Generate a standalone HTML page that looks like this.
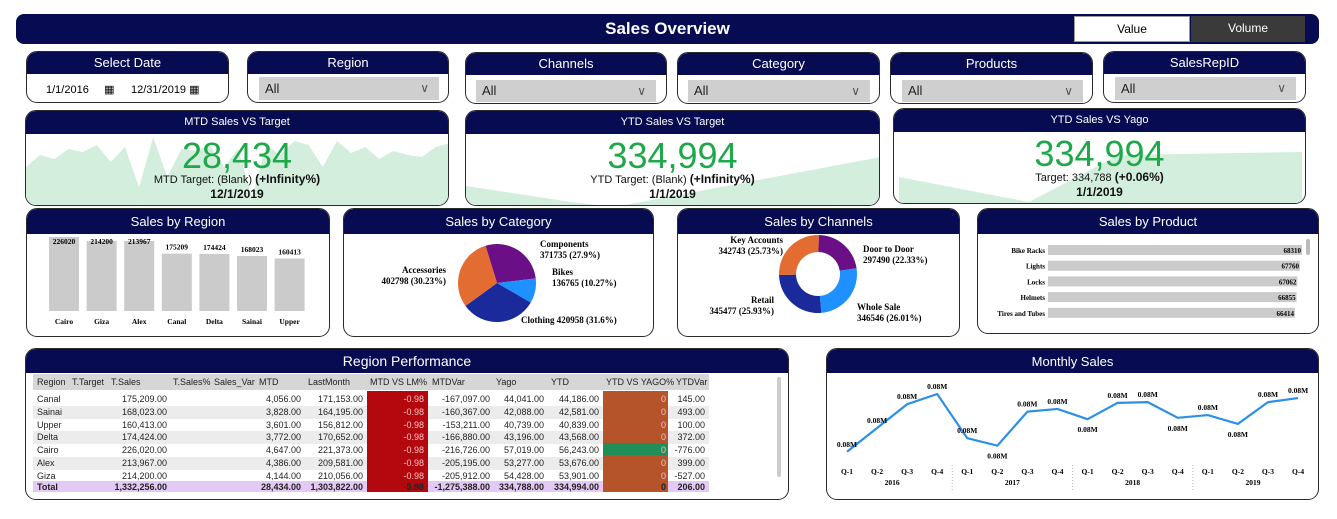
<!DOCTYPE html>
<html><head><meta charset="utf-8">
<style>
*{box-sizing:border-box;margin:0;padding:0}
body{width:1337px;height:519px;background:#fff;position:relative;overflow:hidden;font-family:"Liberation Sans",sans-serif}
.abs{position:absolute}
.panel{position:absolute;border:1px solid #2a2a2a;border-radius:11px;overflow:hidden;background:#fff}
.ph{position:absolute;left:0;right:0;top:0;background:#070c52;color:#fff;text-align:center;font-size:13px}
.dd{position:absolute;background:#cfcfcf;font-size:13px;color:#222;padding-left:6px}
.dd span{position:absolute;right:10px;top:0;font-size:12px;color:#555}
.big{position:absolute;color:#1fa84a;font-size:36px;text-align:center;width:100%}
.sub{position:absolute;font-size:11px;text-align:center;width:100%;color:#111}
.date{position:absolute;font-size:12px;font-weight:bold;text-align:center;width:100%;color:#111}
svg text{font-family:"Liberation Serif",serif;font-weight:bold}
table{border-collapse:collapse}
.tc{position:absolute;font-size:9px;color:#222;white-space:nowrap}
</style></head><body>

<div class="abs" style="left:16px;top:14px;width:1303px;height:30px;background:#070c52;border-radius:8px"></div>
<div class="abs" style="left:16px;top:19px;width:1303px;text-align:center;color:#fff;font-size:17px;font-weight:bold">Sales Overview</div>
<div class="abs" style="left:1074px;top:16px;width:116px;height:26px;background:#fff;border:1px solid #999;text-align:center;font-size:12px;line-height:25px">Value</div>
<div class="abs" style="left:1191px;top:16px;width:114px;height:26px;background:#3a3a3a;color:#fff;text-align:center;font-size:12px;line-height:25px">Volume</div>

<!-- slicers -->
<div class="panel" style="left:26px;top:51px;width:203px;height:52px"><div class="ph" style="height:22px;line-height:22px">Select Date</div>
<div class="abs" style="left:12px;top:28px;width:86px;height:20px;font-size:11px;line-height:20px;padding-left:7px">1/1/2016 &nbsp;&nbsp;&nbsp;&nbsp;&#9638;</div>
<div class="abs" style="left:100px;top:28px;width:90px;height:20px;font-size:11px;line-height:20px;padding-left:4px">12/31/2019 &#9638;</div></div>

<div class="panel" style="left:247px;top:51px;width:202px;height:52px"><div class="ph" style="height:22px;line-height:22px">Region</div><div class="dd" style="left:11px;top:25px;width:180px;height:23px;line-height:23px">All<span>&#8744;</span></div></div>
<div class="panel" style="left:465px;top:52px;width:202px;height:52px"><div class="ph" style="height:22px;line-height:22px">Channels</div><div class="dd" style="left:10px;top:27px;width:180px;height:22px;line-height:22px">All<span>&#8744;</span></div></div>
<div class="panel" style="left:677px;top:52px;width:203px;height:52px"><div class="ph" style="height:22px;line-height:22px">Category</div><div class="dd" style="left:10px;top:27px;width:182px;height:22px;line-height:22px">All<span>&#8744;</span></div></div>
<div class="panel" style="left:890px;top:52px;width:203px;height:52px"><div class="ph" style="height:22px;line-height:22px">Products</div><div class="dd" style="left:11px;top:27px;width:181px;height:22px;line-height:22px">All<span>&#8744;</span></div></div>
<div class="panel" style="left:1103px;top:51px;width:203px;height:52px"><div class="ph" style="height:22px;line-height:22px">SalesRepID</div><div class="dd" style="left:11px;top:25px;width:181px;height:23px;line-height:23px">All<span>&#8744;</span></div></div>

<!-- KPI cards -->
<div class="panel" style="left:25px;top:110px;width:424px;height:96px">
<div class="ph" style="height:23px;line-height:23px;font-size:11px">MTD Sales VS Target</div>
<svg class="abs" style="left:0;top:23px" width="424" height="73" id="spark1"></svg>
<div class="big" style="top:24px">28,434</div>
<div class="sub" style="top:61px">MTD Target: (Blank) <b style="font-size:12px">(+Infinity%)</b></div>
<div class="date" style="top:76px">12/1/2019</div></div>

<div class="panel" style="left:465px;top:110px;width:415px;height:96px">
<div class="ph" style="height:23px;line-height:23px;font-size:11px">YTD Sales VS Target</div>
<svg class="abs" style="left:0;top:23px" width="415" height="73"><path d="M0,52 L105,68 L148,73 L415,23 L415,73 L0,73Z" fill="#d3eedc"/></svg>
<div class="big" style="top:24px">334,994</div>
<div class="sub" style="top:61px">YTD Target: (Blank) <b style="font-size:12px">(+Infinity%)</b></div>
<div class="date" style="top:76px">1/1/2019</div></div>

<div class="panel" style="left:893px;top:108px;width:413px;height:96px">
<div class="ph" style="height:23px;line-height:23px;font-size:11px">YTD Sales VS Yago</div>
<svg class="abs" style="left:0;top:23px" width="413" height="73"><path d="M5,45 L135,70 L225,23 L408,20 L408,73 L5,73Z" fill="#d3eedc"/></svg>
<div class="big" style="top:24px">334,994</div>
<div class="sub" style="top:61px">Target: 334,788 <b style="font-size:12px">(+0.06%)</b></div>
<div class="date" style="top:76px">1/1/2019</div></div>

<!-- row 3 -->
<div class="panel" style="left:26px;top:208px;width:304px;height:129px"><div class="ph" style="height:25px;line-height:25px">Sales by Region</div></div>
<div class="panel" style="left:343px;top:208px;width:311px;height:129px"><div class="ph" style="height:25px;line-height:25px">Sales by Category</div></div>
<div class="panel" style="left:677px;top:208px;width:283px;height:129px"><div class="ph" style="height:25px;line-height:25px">Sales by Channels</div></div>
<div class="panel" style="left:977px;top:208px;width:342px;height:126px"><div class="ph" style="height:25px;line-height:25px">Sales by Product</div>
<div class="abs" style="left:328px;top:30px;width:4px;height:16px;background:#bbb;border-radius:2px"></div></div>

<!-- row 4 -->
<div class="panel" style="left:25px;top:348px;width:764px;height:152px"><div class="ph" style="height:24px;line-height:25px;font-size:14px">Region Performance</div>
<div class="abs" style="left:751px;top:28px;width:4px;height:100px;background:#ccc;border-radius:2px"></div></div>
<div class="panel" style="left:826px;top:348px;width:493px;height:152px"><div class="ph" style="height:24px;line-height:25px">Monthly Sales</div></div>

<div id="tbl"></div>
<svg class="abs" id="charts" style="left:0;top:0" width="1337" height="519"></svg>

<script>
// ---- data ----
const mtdSpark=[40,52,48,58,55,62,45,60,20,70,30,58,56,62,40,58,10,62,52,66,62,40,66,54,60,48,56,52,50,60,64];
const regionNames=["Cairo","Giza","Alex","Canal","Delta","Sainai","Upper"];
const regionValues=[226020,214200,213967,175209,174424,168023,160413];
const catNames=["Components","Bikes","Clothing","Accessories"];
const catValues=[371735,136765,420958,402798];
const catPct=["27.9%","10.27%","31.6%","30.23%"];
const chanNames=["Door to Door","Whole Sale","Retail","Key Accounts"];
const chanValues=[297490,346546,345477,342743];
const chanPct=["22.33%","26.01%","25.93%","25.73%"];
const prodNames=["Bike Racks","Lights","Locks","Helmets","Tires and Tubes"];
const prodValues=[68310,67760,67062,66855,66414];
const quarters=["Q-1","Q-2","Q-3","Q-4","Q-1","Q-2","Q-3","Q-4","Q-1","Q-2","Q-3","Q-4","Q-1","Q-2","Q-3","Q-4"];
const years=["2016","2017","2018","2019"];
const monthlyValues=[76.0,79.5,83.0,84.5,78.0,76.9,81.9,82.3,80.8,83.2,83.3,81.0,81.4,80.1,83.3,83.9];
const monthlyLabelBelow=[0,0,0,0,0,1,0,0,1,0,0,1,0,1,0,0];
const tblHeaders=["Region","T.Target","T.Sales","T.Sales%","Sales_Var","MTD","LastMonth","MTD VS LM%","MTDVar","Yago","YTD","YTD VS YAGO%","YTDVar"];
const tblRegions=["Canal","Sainai","Upper","Delta","Cairo","Alex","Giza"];
const tblTarget=["175,209.00","168,023.00","160,413.00","174,424.00","226,020.00","213,967.00","214,200.00"];
const tblMTD=["4,056.00","3,828.00","3,601.00","3,772.00","4,647.00","4,386.00","4,144.00"];
const tblLast=["171,153.00","164,195.00","156,812.00","170,652.00","221,373.00","209,581.00","210,056.00"];
const tblPct=["-0.98","-0.98","-0.98","-0.98","-0.98","-0.98","-0.98"];
const tblMTDVar=["-167,097.00","-160,367.00","-153,211.00","-166,880.00","-216,726.00","-205,195.00","-205,912.00"];
const tblYago=["44,041.00","42,088.00","40,739.00","43,196.00","57,019.00","53,277.00","54,428.00"];
const tblYTD=["44,186.00","42,581.00","40,839.00","43,568.00","56,243.00","53,676.00","53,901.00"];
const tblYPct=["0","0","0","0","0","0","0"];
const tblYVar=["145.00","493.00","100.00","372.00","-776.00","399.00","-527.00"];
const tblTotal=["Total","1,332,256.00","","","","28,434.00","1,303,822.00","-0.98","-1,275,388.00","334,788.00","334,994.00","0","206.00"];

const NS="http://www.w3.org/2000/svg";
function mk(parent,tag,attrs,txt){const e=document.createElementNS(NS,tag);for(const k in attrs)e.setAttribute(k,attrs[k]);if(txt!==undefined)e.textContent=txt;parent.appendChild(e);return e;}
const svg=document.getElementById('charts');

// sparkline
const sp=document.getElementById('spark1');
{let d="M0,73";mtdSpark.forEach((v,i)=>{d+=" L"+(i*424/(mtdSpark.length-1)).toFixed(1)+","+(73-v).toFixed(1)});d+=" L424,73Z";
const p=mk(sp,'path',{d:d,fill:'#d3eedc'});

}

// region bars
{const base=311,maxH=74,maxV=226020,x0=49,step=37.6,bw=30;
regionNames.forEach((n,i)=>{const h=regionValues[i]/maxV*maxH;const x=x0+i*step;
const r=mk(svg,'rect',{x:x,y:base-h,width:bw,height:h,fill:'#cbcbcb'});


const t=mk(svg,'text',{x:x+bw/2,y:Math.max(base-h-4,244),'text-anchor':'middle','font-size':7.5},regionValues[i]);


const l=mk(svg,'text',{x:x+bw/2,y:324,'text-anchor':'middle','font-size':7.5},n);

});}

function arcPath(cx,cy,r,ri,a0,a1){const p=(a,rr)=>[cx+rr*Math.sin(a),cy-rr*Math.cos(a)];const lg=(a1-a0)>Math.PI?1:0;
const [x0,y0]=p(a0,r),[x1,y1]=p(a1,r);
if(!ri)return `M${cx},${cy} L${x0},${y0} A${r},${r} 0 ${lg} 1 ${x1},${y1}Z`;
const [x2,y2]=p(a1,ri),[x3,y3]=p(a0,ri);return `M${x0},${y0} A${r},${r} 0 ${lg} 1 ${x1},${y1} L${x2},${y2} A${ri},${ri} 0 ${lg} 0 ${x3},${y3}Z`;}

// pie
{const cx=497,cy=283,r=39,cols=["#6a0f86","#1e90ff","#1a2a9a","#e36c32"];const tot=catValues.reduce((a,b)=>a+b,0);let a=-0.3;
const lab=[[540,247,'start'],[552,275,'start'],[521,323,'start'],[446,273,'end']];
catValues.forEach((v,i)=>{const a1=a+v/tot*2*Math.PI;const s=mk(svg,'path',{d:arcPath(cx,cy,r,0,a,a1),fill:cols[i]});

a=a1;
const [lx,ly,an]=lab[i];
if(i===2){const t=mk(svg,'text',{x:lx,y:ly,'text-anchor':an,'font-size':9},catNames[i]+" "+v+" ("+catPct[i]+")");}
else{const t=mk(svg,'text',{x:lx,y:ly,'text-anchor':an,'font-size':9},catNames[i]);
const t2=mk(svg,'text',{x:lx,y:ly+11,'text-anchor':an,'font-size':9},v+" ("+catPct[i]+")");}});}

// donut
{const cx=818,cy=274,r=39,ri=22,cols=["#6a0f86","#1e90ff","#1a2a9a","#e36c32"];const tot=chanValues.reduce((a,b)=>a+b,0);let a=0.02;
const lab=[[863,252,'start'],[857,310,'start'],[774,303,'end'],[783,243,'end']];
chanValues.forEach((v,i)=>{const a1=a+v/tot*2*Math.PI;const s=mk(svg,'path',{d:arcPath(cx,cy,r,ri,a,a1),fill:cols[i]});

a=a1;
const [lx,ly,an]=lab[i];
const t=mk(svg,'text',{x:lx,y:ly,'text-anchor':an,'font-size':9},chanNames[i]);
const t2=mk(svg,'text',{x:lx,y:ly+11,'text-anchor':an,'font-size':9},v+" ("+chanPct[i]+")");});}

// products
{const x0=1048,maxW=254,maxV=68310,y0=245,step=15.7,bh=10;
prodNames.forEach((n,i)=>{const w=prodValues[i]/maxV*maxW;const y=y0+i*step;
const r=mk(svg,'rect',{x:x0,y:y,width:w,height:bh,fill:'#cbcbcb'});


const t=mk(svg,'text',{x:1045,y:y+8,'text-anchor':'end','font-size':7},n);
const v=mk(svg,'text',{x:x0+w-1,y:y+8,'text-anchor':'end','font-size':7},prodValues[i]);});}

// monthly line
{const x0=847,step=30.07,yTop=394,vTop=84.5,pxPer=6.8;
const X=i=>x0+i*step,Y=v=>yTop+(vTop-v)*pxPer;
const pts=monthlyValues.map((v,i)=>X(i)+","+Y(v)).join(" ");
const pl=mk(svg,'polyline',{points:pts,fill:'none',stroke:'#2b8fe8','stroke-width':2.2});


monthlyValues.forEach((v,i)=>{const y=monthlyLabelBelow[i]?Y(v)+13:Y(v)-5;
const t=mk(svg,'text',{x:X(i),y:y,'text-anchor':'middle','font-size':7.5},(v/1000).toFixed(2)+"M");
const q=mk(svg,'text',{x:X(i),y:474,'text-anchor':'middle','font-size':7.5},quarters[i]);});
years.forEach((yr,j)=>{const t=mk(svg,'text',{x:(X(j*4)+X(j*4+3))/2,y:485,'text-anchor':'middle','font-size':7.5},yr);
if(j>0){const l=mk(svg,'line',{x1:X(j*4)-step/2,x2:X(j*4)-step/2,y1:465,y2:490,stroke:'#bbb','stroke-dasharray':'1,2'});}});}

// table
{const tb=document.getElementById('tbl');
function box(x,y,w,h,bg,name){const d=document.createElement('div');d.className='abs';d.style.cssText=`left:${x}px;top:${y}px;width:${w}px;height:${h}px;background:${bg}`;tb.appendChild(d);}
box(33,374,676,16,'#d6d6d6','table-header-row');
const rowY0=393,rh=12.8;
tblRegions.forEach((r,i)=>{if(i%2===1)box(33,rowY0+i*rh,676,rh,'#ececec','table-row-stripe');});
box(367,391,61,101,'#b2080e','mtd-vs-lm-column');
box(603,391,65,101,'#b5532b','ytd-vs-yago-column');
box(603,443,65,12,'#1f8f57','ytd-vs-yago-positive');
box(33,481,334,11,'#e5c9f5','total-row');box(428,481,175,11,'#e5c9f5','total-row');box(668,481,41,11,'#e5c9f5','total-row');
const hx=[37,72,111,173,214,259,308,370,432,496,551,606,676];
tblHeaders.forEach((h,i)=>{const d=document.createElement('div');d.className='tc';d.style.left=hx[i]+'px';d.style.top='377px';d.textContent=h;tb.appendChild(d);});
const cols=[[tblTarget,167],[tblMTD,301],[tblLast,363],[tblPct,424],[tblMTDVar,490],[tblYago,544],[tblYTD,599],[tblYPct,666],[tblYVar,705]];
function cell(txt,right,y,color,bold,left){const d=document.createElement('div');d.className='tc';if(left!==undefined)d.style.left=left+'px';else d.style.right=(1337-right)+'px';d.style.top=y+'px';d.textContent=txt;if(color)d.style.color=color;if(bold)d.style.fontWeight='bold';tb.appendChild(d);}
tblRegions.forEach((r,i)=>{const y=rowY0+i*rh+1;cell(r,0,y,null,false,37);
cols.forEach((c,j)=>cell(c[0][i],c[1],y,(j===3||j===7)?'#f4c0c0':null,false));});
const tIdx=[1,5,6,7,8,9,10,11,12];
cell("Total",0,482,null,true,37);
tIdx.forEach((k,j)=>cell(tblTotal[k],cols[j][1],482,null,true));}
</script>
</body></html>
